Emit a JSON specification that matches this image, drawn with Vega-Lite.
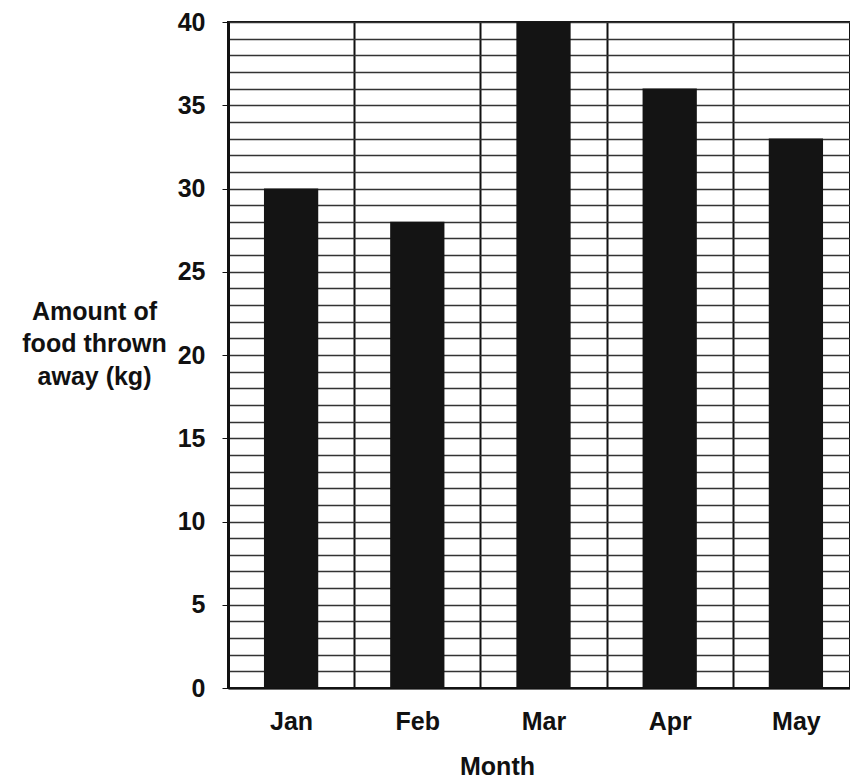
{
  "$schema": "https://vega.github.io/schema/vega-lite/v6.json",
  "width": 622,
  "height": 666,
  "autosize": {"type": "none"},
  "padding": {"left": 228, "top": 22, "right": 0, "bottom": 95},
  "background": "white",
  "config": {
    "view": {"stroke": "#111", "strokeWidth": 2},
    "font": "Liberation Sans"
  },
  "data": {
    "values": [
      {"month": "Jan", "kg": 30},
      {"month": "Feb", "kg": 28},
      {"month": "Mar", "kg": 40},
      {"month": "Apr", "kg": 36},
      {"month": "May", "kg": 33}
    ]
  },
  "mark": {"type": "bar", "color": "#141414", "width": {"band": 0.43}},
  "encoding": {
    "x": {
      "field": "month",
      "type": "nominal",
      "sort": null,
      "scale": {"paddingInner": 0, "paddingOuter": 0, "range": [0, 631]},
      "axis": {
        "title": "Month",
        "titleFontSize": 25,
        "titleFontWeight": "bold",
        "titleColor": "#111",
        "titleX": 269,
        "titleY": 78,
        "titleBaseline": "middle",
        "labelAngle": 0,
        "labelFontSize": 25,
        "labelFontWeight": "bold",
        "labelColor": "#111",
        "labelPadding": 33,
        "labelBaseline": "middle",
        "ticks": false,
        "tickBand": "extent",
        "grid": true,
        "gridColor": "#111",
        "gridWidth": 2,
        "domainColor": "#111",
        "domainWidth": 2
      }
    },
    "y": {
      "field": "kg",
      "type": "quantitative",
      "scale": {"domain": [0, 40], "nice": false},
      "axis": {
        "title": ["Amount of", "food thrown", "away (kg)"],
        "titleAngle": 0,
        "titleAlign": "center",
        "titleBaseline": "middle",
        "titleX": -134,
        "titleY": 289,
        "titleLineHeight": 32.5,
        "titleFontSize": 25,
        "titleFontWeight": "bold",
        "titleColor": "#111",
        "values": [0,1,2,3,4,5,6,7,8,9,10,11,12,13,14,15,16,17,18,19,20,21,22,23,24,25,26,27,28,29,30,31,32,33,34,35,36,37,38,39,40],
        "labelExpr": "datum.value % 5 === 0 ? datum.label : ''",
        "labelFontSize": 25,
        "labelFontWeight": "bold",
        "labelColor": "#111",
        "labelPadding": 17,
        "tickSize": 6,
        "tickColor": "#111",
        "tickOpacity": {"condition": {"test": "datum.value % 5 === 0", "value": 1}, "value": 0},
        "grid": true,
        "gridColor": "#333",
        "gridWidth": 1.3,
        "domainColor": "#111",
        "domainWidth": 3
      }
    }
  }
}
